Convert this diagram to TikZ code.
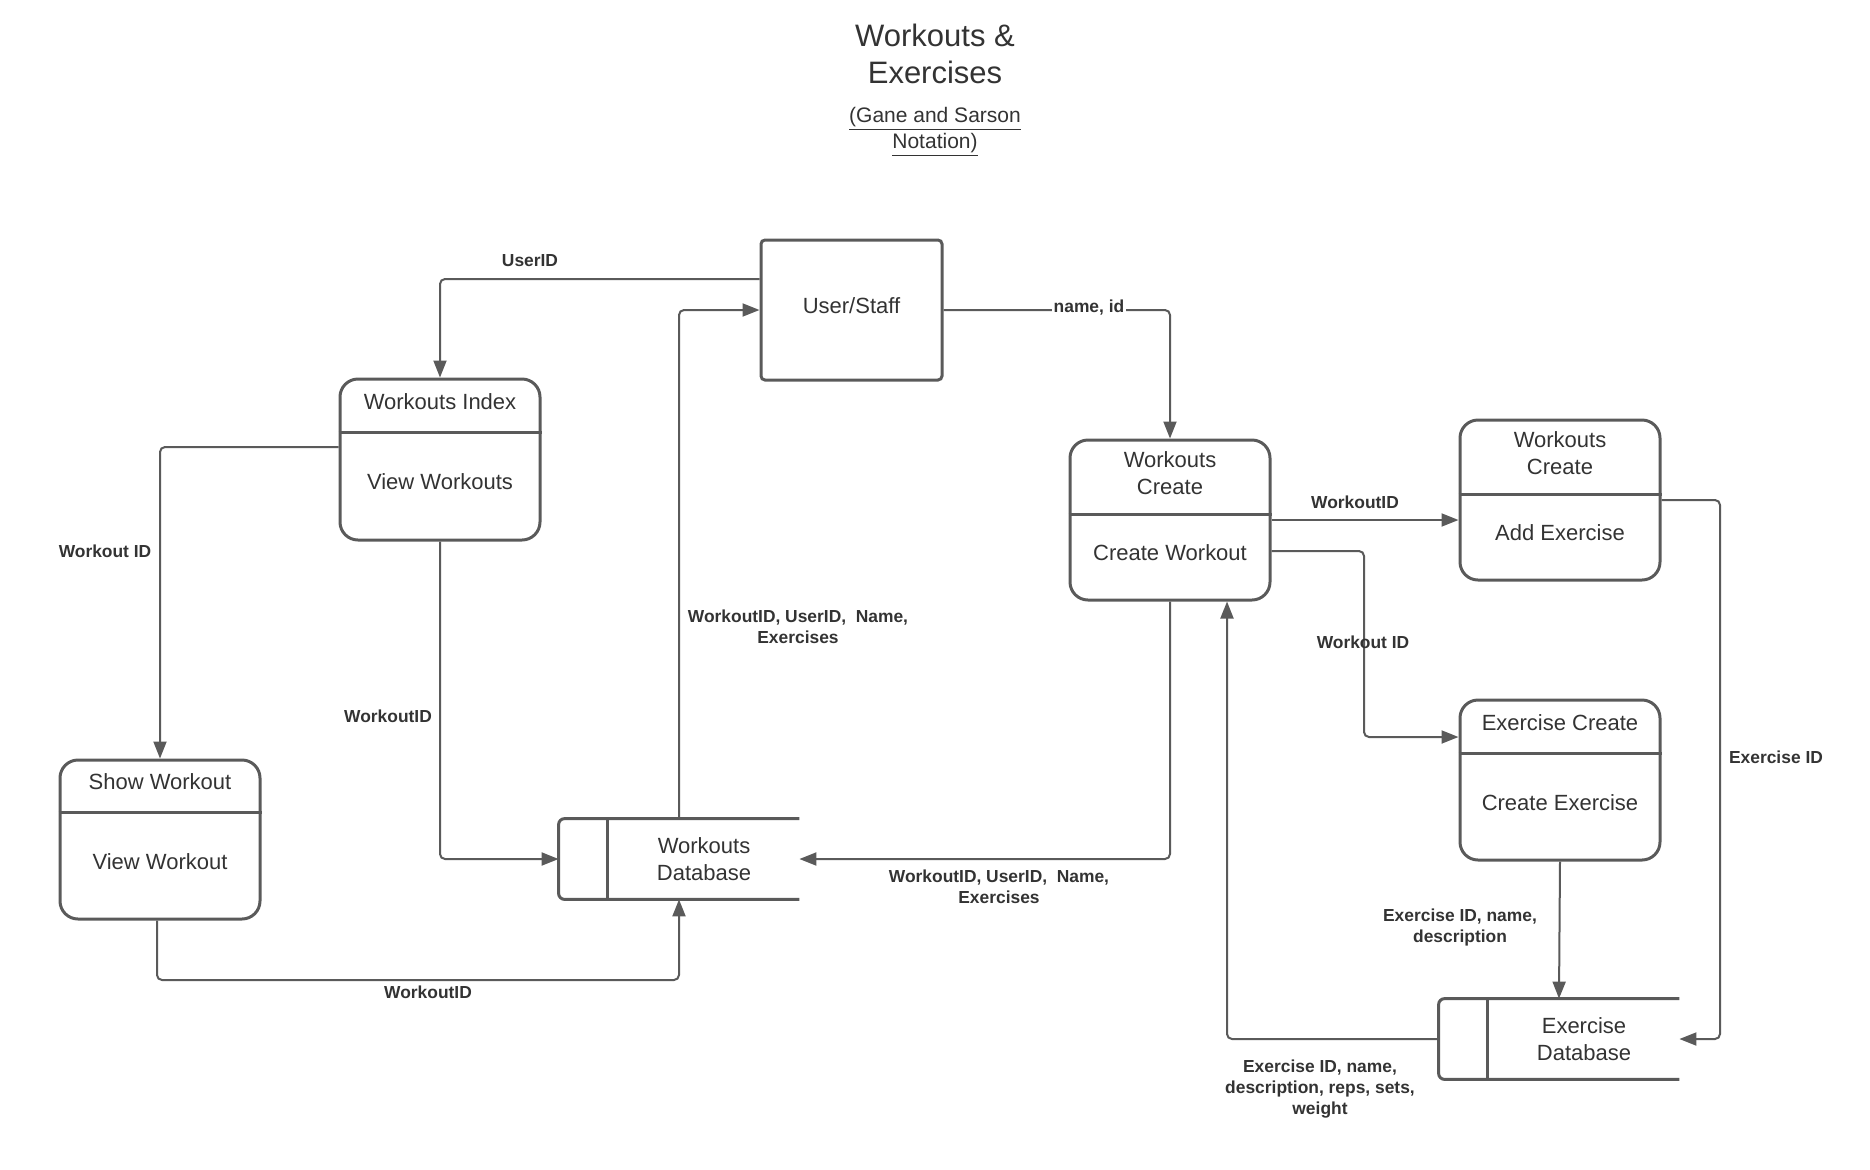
\documentclass[tikz,border=0pt]{standalone}
\usepackage{fontspec}
\setmainfont{Liberation Sans}
\usetikzlibrary{arrows.meta}
\definecolor{lc}{HTML}{5A5A5A}
\definecolor{tc}{HTML}{333333}
\newcommand{\nodefont}{\fontsize{11pt}{13.4pt}\selectfont}
\newcommand{\lblfont}{\fontsize{8.7pt}{10.5pt}\selectfont\bfseries}
\begin{document}
\begin{tikzpicture}[x=0.5pt,y=-0.5pt,
  proc/.style={draw=lc, line width=1.5pt, rounded corners=9pt, minimum width=100pt, minimum height=80pt, inner sep=0pt},
  ent/.style={draw=lc, line width=1.5pt, rounded corners=2pt, minimum width=90.5pt, minimum height=70pt, inner sep=0pt},
  dbn/.style={minimum width=120pt, minimum height=40pt, inner sep=0pt},
  boxline/.style={draw=lc, line width=1.5pt},
  flow/.style={draw=lc, line width=1pt, rounded corners=2.5pt, -{Triangle[length=8.5pt,width=6.5pt]}},
  lbl/.style={font=\lblfont, text=tc, align=center, inner sep=1pt},
  txt/.style={font=\nodefont, text=tc, align=center, inner sep=0pt}]
\useasboundingbox (0,0) rectangle (1870,1169);

% title
\node[txt, font=\fontsize{15.5pt}{18.5pt}\selectfont] (title) at (935,54) {Workouts \&\\Exercises};
\node[txt, font=\fontsize{10.5pt}{13pt}\selectfont] (subtitle) at (935,132) {\underline{(Gane and Sarson}\\\underline{Notation)}};

% entity
\node[ent] (us) at (851.5,310) {};
\node[txt] (ust) at (851.5,306) {User/Staff};

% processes
\node[proc, minimum height=80.5pt] (wi) at (440,459.5) {};
\draw[boxline] (wi.west |- 0,432) -- (wi.east |- 0,432);
\node[txt] (wih) at (440,402) {Workouts Index};
\node[txt] (wib) at (440,482) {View Workouts};

\node[proc, minimum height=79.5pt] (sw) at (160,839.5) {};
\draw[boxline] (sw.west |- 0,812) -- (sw.east |- 0,812);
\node[txt] (swh) at (160,782) {Show Workout};
\node[txt] (swb) at (160,862) {View Workout};

\node[proc] (wcl) at (1170,520) {};
\draw[boxline] (wcl.west |- 0,514) -- (wcl.east |- 0,514);
\node[txt] (wclh) at (1170,473.5) {Workouts\\Create};
\node[txt] (wclb) at (1170,553) {Create Workout};

\node[proc] (wcr) at (1560,500) {};
\draw[boxline] (wcr.west |- 0,494) -- (wcr.east |- 0,494);
\node[txt] (wcrh) at (1560,453) {Workouts\\Create};
\node[txt] (wcrb) at (1560,533) {Add Exercise};

\node[proc] (ec) at (1560,780) {};
\draw[boxline] (ec.west |- 0,753) -- (ec.east |- 0,753);
\node[txt] (ech) at (1560,723) {Exercise Create};
\node[txt] (ecb) at (1560,803) {Create Exercise};

% data stores
\node[dbn] (wdb) at (679,859) {};
\draw[boxline, rounded corners=3pt] (wdb.north east) -- (wdb.north west) -- (wdb.south west) -- (wdb.south east);
\draw[boxline] ([xshift=24.5pt]wdb.north west) -- ([xshift=24.5pt]wdb.south west);
\node[txt] (wdbt) at (704,859) {Workouts\\Database};

\node[dbn] (edb) at (1559,1039) {};
\draw[boxline, rounded corners=3pt] (edb.north east) -- (edb.north west) -- (edb.south west) -- (edb.south east);
\draw[boxline] ([xshift=24.5pt]edb.north west) -- ([xshift=24.5pt]edb.south west);
\node[txt] (edbt) at (1584,1039) {Exercise\\Database};

% connectors
\draw[flow] (us.west |- 0,279) -| (wi.north);
\node[lbl] (l1) at (530,261) {UserID};

\draw[flow] (wdb.north) |- (us.west);
\node[lbl] (l2) at (798,627) {WorkoutID, UserID,\ \ Name,\\Exercises};

\draw[flow] (us.east) -| (wcl.north);
\node[lbl, fill=white] (l3) at (1089,308) {name, id};

\draw[flow] (wi.west |- 0,447) -| (sw.north);
\node[lbl] (l4) at (105,551) {Workout ID};

\draw[flow] (wi.south) |- (wdb.west);
\node[lbl] (l5) at (388,716) {WorkoutID};

\coordinate (j6) at (157,980);
\draw[flow] ([xshift=-1.5pt]sw.south) -- (j6) -| (wdb.south);
\node[lbl] (l6) at (428,992) {WorkoutID};

\draw[flow] (wcl.south) |- (wdb.east);
\node[lbl] (l7) at (999,887) {WorkoutID, UserID,\ \ Name,\\Exercises};

\draw[flow] (wcl.east) -- (wcr.west |- wcl.east);
\node[lbl] (l8) at (1355,502) {WorkoutID};

\coordinate (j9) at (1364,737);
\draw[flow] (wcl.east |- 0,551) -| (j9) -- (ec.west |- j9);
\node[lbl] (l9) at (1363,642) {Workout ID};

\coordinate (j10) at (1720,500);
\draw[flow] (wcr.east) -- (j10) |- (edb.east);
\node[lbl] (l10) at (1776,757) {Exercise ID};

\draw[flow] (ec.south) -- (edb.north);
\node[lbl] (l11) at (1460,927) {Exercise ID, name,\\description};

\draw[flow] (edb.west) -| ([xshift=28.5pt]wcl.south);
\node[lbl] (l12) at (1320,1089) {Exercise ID, name,\\description, reps, sets,\\weight};
\end{tikzpicture}
\end{document}
